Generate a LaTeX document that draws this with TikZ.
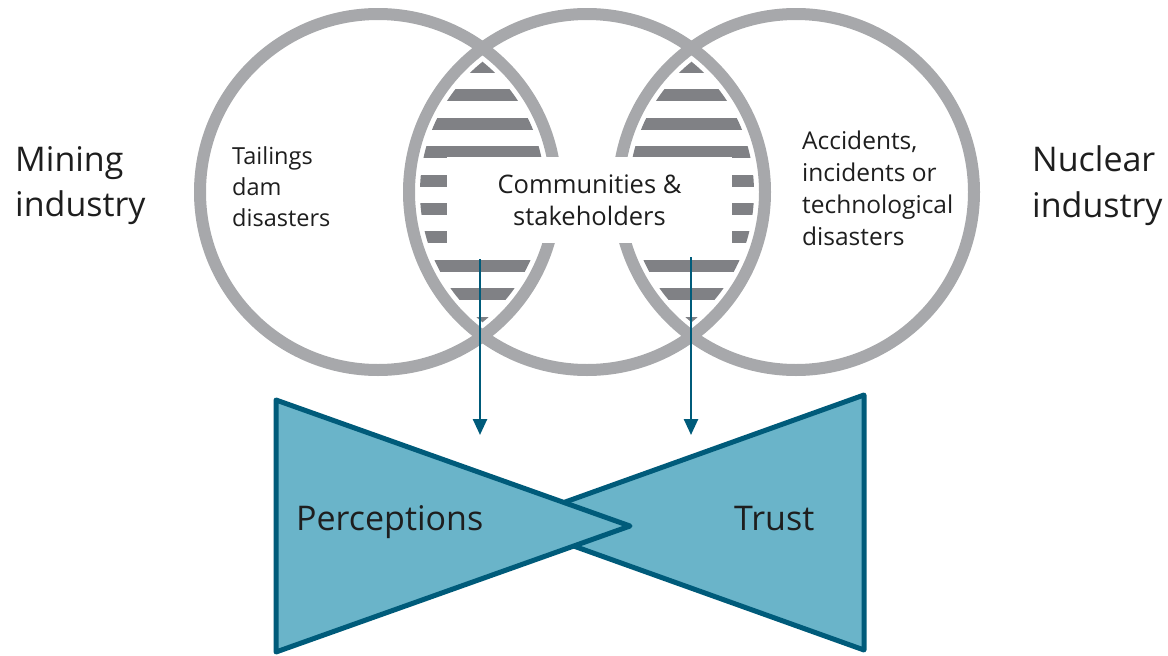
\documentclass[tikz,border=0pt]{standalone}
\usepackage{fontspec}
\setmainfont{Open Sans}
\usetikzlibrary{arrows.meta}
\definecolor{ringgray}{HTML}{A7A8AB}
\definecolor{stripegray}{HTML}{808185}
\definecolor{tealline}{HTML}{005B7A}
\definecolor{bowfill}{HTML}{6AB4C9}
\definecolor{txt}{HTML}{1E1E1E}
\begin{document}
\begin{tikzpicture}[x=1pt,y=-1pt,
  ringline/.style={draw=ringgray,line width=12pt},
  stripebar/.style={fill=stripegray},
  lbl/.style={inner sep=0pt,align=left,text=txt},
  flowarrow/.style={draw=tealline,line width=2.5pt,-{Triangle[length=16pt,width=14pt]}},
  bow/.style={draw=tealline,fill=bowfill,line width=5pt,line join=round}]
\useasboundingbox (0,0) rectangle (1168,656);
\coordinate (c1) at (378,192);
\coordinate (c2) at (587,192);
\coordinate (c3) at (796,192);
% stripes in the lenses
\begin{scope}
  \clip (c1) circle[radius=167];
  \clip (c2) circle[radius=167];
  \foreach \i in {0,...,9} {
    \fill[stripebar] (400,{61+28.4*\i}) rectangle (570,{73+28.4*\i});
  }
\end{scope}
\begin{scope}
  \clip (c2) circle[radius=167];
  \clip (c3) circle[radius=167];
  \foreach \i in {0,...,9} {
    \fill[stripebar] (610,{61+28.4*\i}) rectangle (780,{73+28.4*\i});
  }
\end{scope}
% rings
\draw[ringline] (c1) circle[radius=178];
\draw[ringline] (c2) circle[radius=178];
\draw[ringline] (c3) circle[radius=178];
% central box
\node[fill=white,minimum width=285pt,minimum height=86pt,inner sep=0pt,align=center,text=txt,
      font=\fontsize{25.5}{32}\selectfont] (comm) at (589.5,200) {Communities \&\\stakeholders};
% labels
\node[lbl,anchor=west,font=\fontsize{34}{45}\selectfont] (mining) at (15,186) {Mining\\industry};
\node[lbl,anchor=west,font=\fontsize{34}{46}\selectfont] (nuclear) at (1032,186) {Nuclear\\industry};
\node[lbl,anchor=west,font=\fontsize{23.5}{31}\selectfont] (tailings) at (232,187) {Tailings\\dam\\disasters};
\node[lbl,anchor=west,font=\fontsize{24.5}{32}\selectfont] (accid) at (802,188) {Accidents,\\incidents or\\technological\\disasters};
% arrows
\coordinate (a1s) at (480,259);
\coordinate (a1e) at (480,435);
\coordinate (a2s) at (691,257);
\coordinate (a2e) at (691,435);
\draw[flowarrow] (a1s) -- (a1e);
\draw[flowarrow] (a2s) -- (a2e);
% bow tie
\draw[bow] (864,395) -- (864,650) -- (508,522.5) -- cycle;
\draw[bow] (276,400) -- (276,652) -- (630,526) -- cycle;
\node[lbl,anchor=base west,font=\fontsize{34}{40}\selectfont] (perc) at (296,530) {Perceptions};
\node[lbl,anchor=base west,font=\fontsize{34}{40}\selectfont] (trust) at (734,530) {Trust};
\end{tikzpicture}
\end{document}
